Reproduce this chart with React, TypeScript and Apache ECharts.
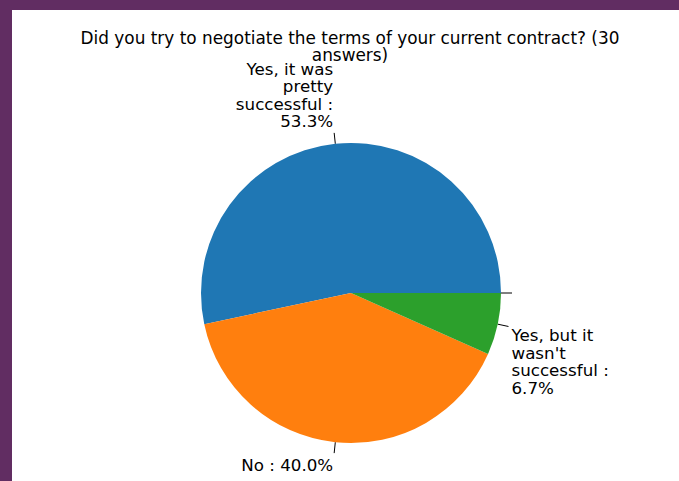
import React, { useEffect, useRef } from 'react';
import * as echarts from 'echarts';

const titleLines = ['Did you try to negotiate the terms of your current contract? (30', 'answers)'];
const categories = ['Yes, it was pretty successful', 'No', "Yes, but it wasn't successful", ''];
const counts = [16, 12, 2, 0];
const colors = ['#1f77b4', '#ff7f0e', '#2ca02c', '#d62728'];

const FONT = '"DejaVu Sans", sans-serif';
const FS = 16.7;
const LH = 17.5;

function wrap(text: string, width: number): string {
  const words = text.split(' ');
  const lines: string[] = [];
  let cur = '';
  for (const w of words) {
    if (!cur) cur = w;
    else if ((cur + ' ' + w).length <= width) cur += ' ' + w;
    else {
      lines.push(cur);
      cur = w;
    }
  }
  if (cur) lines.push(cur);
  return lines.join('\n');
}

export default function App() {
  const ref = useRef<HTMLDivElement>(null);
  useEffect(() => {
    if (!ref.current) return;
    const chart = echarts.init(ref.current, undefined, { renderer: 'svg' });
    const total = counts.reduce((a, b) => a + b, 0);
    const cx = 339;
    const cy = 283;
    chart.setOption({
      animation: false,
      backgroundColor: '#ffffff',
      graphic: [
        {
          type: 'text',
          x: 338,
          y: 19,
          style: {
            text: titleLines.join('\n'),
            fontSize: 16.9,
            fontFamily: FONT,
            lineHeight: LH,
            fill: '#000',
            align: 'center',
            verticalAlign: 'top',
            textAlign: 'center',
            textVerticalAlign: 'top',
          },
        },
      ],
      series: [
        {
          type: 'pie',
          center: [cx, cy],
          radius: 150,
          startAngle: 0,
          clockwise: false,
          avoidLabelOverlap: false,
          silent: true,
          itemStyle: { borderWidth: 0 },
          emphasis: { disabled: true, scale: false },
          label: {
            show: true,
            position: 'outside',
            alignTo: 'none',
            distanceToLabelLine: 1,
            fontSize: FS,
            fontFamily: FONT,
            lineHeight: LH,
            color: '#000',
            padding: [3, 0, 3, 0],
            formatter: (p: any) => {
              if (!categories[p.dataIndex]) return ' ';
              const pct = ((counts[p.dataIndex] / total) * 100).toFixed(1);
              return wrap(`${categories[p.dataIndex]} : ${pct}%`, 12);
            },
          },
          labelLine: {
            show: true,
            length: 11,
            length2: 0,
            smooth: false,
            lineStyle: { color: '#000', width: 1 },
          },
          labelLayout: (p: any) => {
            const pts = p.labelLinePoints;
            const y = pts ? pts[pts.length - 1][1] : cy;
            return { verticalAlign: y < cy - 0.5 ? 'bottom' : 'top' };
          },
          data: categories.map((c, i) => ({
            name: c,
            value: counts[i],
            itemStyle: { color: colors[i] },
            label: i === 2 ? { padding: [0, 0, 0, 2] } : undefined,
          })),
        },
      ],
    });
    return () => chart.dispose();
  }, []);
  return (
    <div
      style={{
        position: 'fixed',
        left: 0,
        top: 0,
        width: 679,
        height: 481,
        background: '#612d62',
      }}
    >
      <div
        ref={ref}
        style={{ position: 'absolute', left: 12, top: 10, width: 667, height: 471, background: '#fff' }}
      />
    </div>
  );
}
